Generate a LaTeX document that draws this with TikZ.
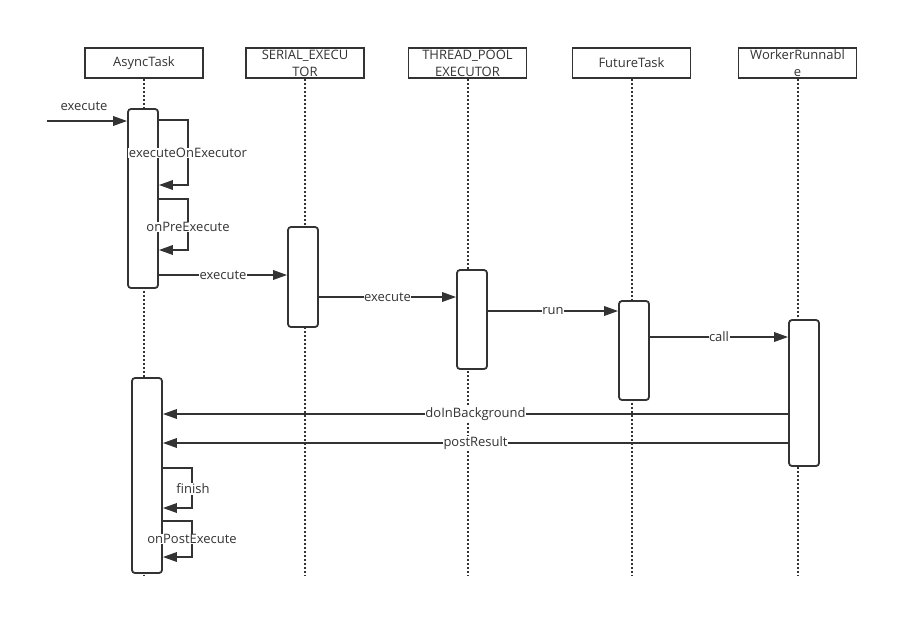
\documentclass[tikz,border=0pt]{standalone}
\usepackage{fontspec}
\setmainfont{Open Sans}
\usepackage{xcolor}
\usetikzlibrary{arrows.meta}
\definecolor{ink}{HTML}{333333}
\tikzset{
  head/.style={draw=ink, line width=1.8pt, minimum width=118pt, minimum height=30pt,
    inner sep=0pt, align=center, text=ink, font=\fontsize{13}{17}\selectfont},
  life/.style={ink, line width=2pt, dash pattern=on 2pt off 2pt},
  act/.style={draw=ink, fill=white, line width=1.8pt, rounded corners=3pt,
    minimum width=30pt, inner sep=0pt},
  msg/.style={ink, line width=1.8pt, -{Triangle[length=14pt,width=9.5pt]}},
  lbl/.style={fill=white, inner sep=0.5pt, text=ink, font=\fontsize{13}{15}\selectfont}
}
\begin{document}
\begin{tikzpicture}[x=1pt, y=-1pt]
\useasboundingbox[fill=white] (0,0) rectangle (918,640);
% heads of the lifelines
\node[head] (async) at (144,63) {AsyncTask};
\node[head] (serial) at (305,63) {SERIAL\_EXECU\\TOR};
\node[head] (pool) at (467.5,63) {THREAD\_POOL\\EXECUTOR};
\node[head] (future) at (631.5,63) {FutureTask};
\node[head] (worker) at (797.5,63) {WorkerRunnabl\\e};
\coordinate (asyncend) at (144,575);
\coordinate (serialend) at (305,575);
\coordinate (poolend) at (467.5,575);
\coordinate (futureend) at (631.5,575);
\coordinate (workerend) at (797.5,575);
\draw[life] (async.south) -- (asyncend);
\draw[life] (serial.south) -- (serialend);
\draw[life] (pool.south) -- (poolend);
\draw[life] (future.south) -- (futureend);
\draw[life] (worker.south) -- (workerend);
% activations
\node[act, minimum height=179pt] (asyncact) at (143,198.5) {};
\node[act, minimum height=195pt] (asyncback) at (147,475.5) {};
\node[act, minimum height=100pt] (serialact) at (303,277) {};
\node[act, minimum height=99pt] (poolact) at (472,319.5) {};
\node[act, minimum height=99pt] (futureact) at (634,350.5) {};
\node[act, minimum height=146pt] (workeract) at (804,393) {};
% calls
\coordinate (caller) at (47,121);
\draw[msg] (caller) -- (asyncact.west |- caller);
\node[text=ink, font=\fontsize{13}{15}\selectfont] (calllbl) at (84,106) {execute};
\draw[msg] (asyncact.east |- 0,120) -- (188,120) -- (188,185) -- (asyncact.east |- 0,185);
\draw[msg] (asyncact.east |- 0,199) -- (188,199) -- (188,250) -- (asyncact.east |- 0,250);
\draw[msg] (asyncact.east |- 0,275) -- (serialact.west |- 0,275) node[midway, lbl] {execute};
\draw[msg] (serialact.east |- 0,297) -- (poolact.west |- 0,297) node[midway, lbl] {execute};
\draw[msg] (poolact.east |- 0,311) -- (futureact.west |- 0,311) node[midway, lbl] {run};
\draw[msg] (futureact.east |- 0,337) -- (workeract.west |- 0,337) node[midway, lbl] {call};
\draw[msg] (workeract.west |- 0,414) -- (asyncback.east |- 0,414) node[midway, lbl] {doInBackground};
\draw[msg] (workeract.west |- 0,443) -- (asyncback.east |- 0,443) node[midway, lbl] {postResult};
\draw[msg] (asyncback.east |- 0,468) -- (192,468) -- (192,508) -- (asyncback.east |- 0,508);
\draw[msg] (asyncback.east |- 0,521) -- (192,521) -- (192,557) -- (asyncback.east |- 0,557);
% self call labels sit over the box edges
\node[lbl] (selflbl1) at (188,153) {executeOnExecutor};
\node[lbl] (selflbl2) at (188,227) {onPreExecute};
\node[lbl] (selflbl3) at (193,489) {finish};
\node[lbl] (selflbl4) at (192,539) {onPostExecute};
\end{tikzpicture}
\end{document}
